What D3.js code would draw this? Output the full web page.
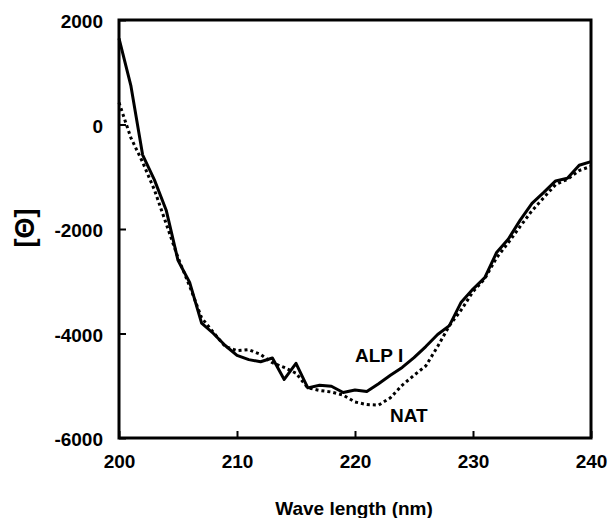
<!DOCTYPE html>
<html>
<head>
<meta charset="utf-8">
<script src="https://cdn.jsdelivr.net/npm/d3@7"></script>
<style>
  html, body { margin: 0; padding: 0; background: #fff; }
  svg text { font-family: "Liberation Sans", Arial, sans-serif; font-weight: bold; fill: #000; }
</style>
</head>
<body>
<svg id="chart" width="611" height="518"></svg>
<script>
// wavelengths (nm), 1 nm steps
const wavelengths = d3.range(200, 241);

// mean residue ellipticity, ALP I (solid)
const alpValues = [
    1650, 750, -580, -1060, -1640, -2600, -3030, -3800, -4000, -4230,
    -4420, -4500, -4540, -4470, -4880, -4570, -5040, -4990, -5010, -5130,
    -5080, -5110, -4960, -4800, -4650, -4460, -4250, -4020, -3850, -3400,
    -3150, -2930, -2450, -2190, -1830, -1510, -1300, -1080, -1030, -780,
    -710
];

// native (dotted)
const natValues = [
    420, -250, -720, -1250, -1900, -2550, -3100, -3700, -3980, -4250,
    -4330, -4310, -4400, -4560, -4650, -4760, -5040, -5090, -5120, -5180,
    -5310, -5360, -5370, -5230, -4990, -4800, -4620, -4250, -3850, -3550,
    -3200, -2950, -2550, -2260, -1950, -1650, -1400, -1150, -1050, -880,
    -800
];

const xTicks = [200, 210, 220, 230, 240];
const yTicks = [2000, 0, -2000, -4000, -6000];

const svg = d3.select('#chart');
const plotLeft = 119, plotRight = 591, plotTop = 20, plotBottom = 438;

const x = d3.scaleLinear().domain([200, 240]).range([plotLeft, plotRight]);
const y = d3.scaleLinear().domain([-6000, 2000]).range([plotBottom, plotTop]);

// axes with inward ticks, plain hyphen for negatives
const xAxis = svg.append('g')
    .attr('transform', `translate(0,${plotBottom})`)
    .call(d3.axisBottom(x).tickValues(xTicks).tickSize(-7).tickPadding(17).tickFormat(d => String(d)));
const yAxis = svg.append('g')
    .attr('transform', `translate(${plotLeft},0)`)
    .call(d3.axisLeft(y).tickValues(yTicks).tickSize(-7).tickPadding(16).tickFormat(d => String(d)));

[xAxis, yAxis].forEach(g => {
    g.select('.domain').remove();
    g.selectAll('line').attr('stroke', '#000').attr('stroke-width', 2);
    g.selectAll('text').attr('font-size', 19).attr('font-family', '"Liberation Sans", Arial, sans-serif');
});
yAxis.selectAll('text').attr('dy', '0.4em');

// frame
svg.append('rect')
    .attr('x', plotLeft).attr('y', plotTop)
    .attr('width', plotRight - plotLeft).attr('height', plotBottom - plotTop)
    .attr('fill', 'none').attr('stroke', '#000').attr('stroke-width', 3);

const line = d3.line()
    .x((d, i) => x(wavelengths[i]))
    .y(d => y(d));

svg.append('path')
    .datum(natValues)
    .attr('d', line)
    .attr('fill', 'none').attr('stroke', '#000')
    .attr('stroke-width', 3).attr('stroke-dasharray', '3,3');

svg.append('path')
    .datum(alpValues)
    .attr('d', line)
    .attr('fill', 'none').attr('stroke', '#000')
    .attr('stroke-width', 3).attr('stroke-linejoin', 'round');

// curve labels
svg.append('text').attr('x', 355).attr('y', 362).attr('font-size', 19).text('ALP I');
svg.append('text').attr('x', 390).attr('y', 422).attr('font-size', 19).text('NAT');

// axis titles
svg.append('text')
    .attr('x', 354).attr('y', 515)
    .attr('text-anchor', 'middle').attr('font-size', 19)
    .text('Wave length (nm)');

svg.append('text')
    .attr('transform', 'translate(34,228) rotate(-90)')
    .attr('text-anchor', 'middle').attr('font-size', 27)
    .text('[Θ]');
</script>
</body>
</html>
